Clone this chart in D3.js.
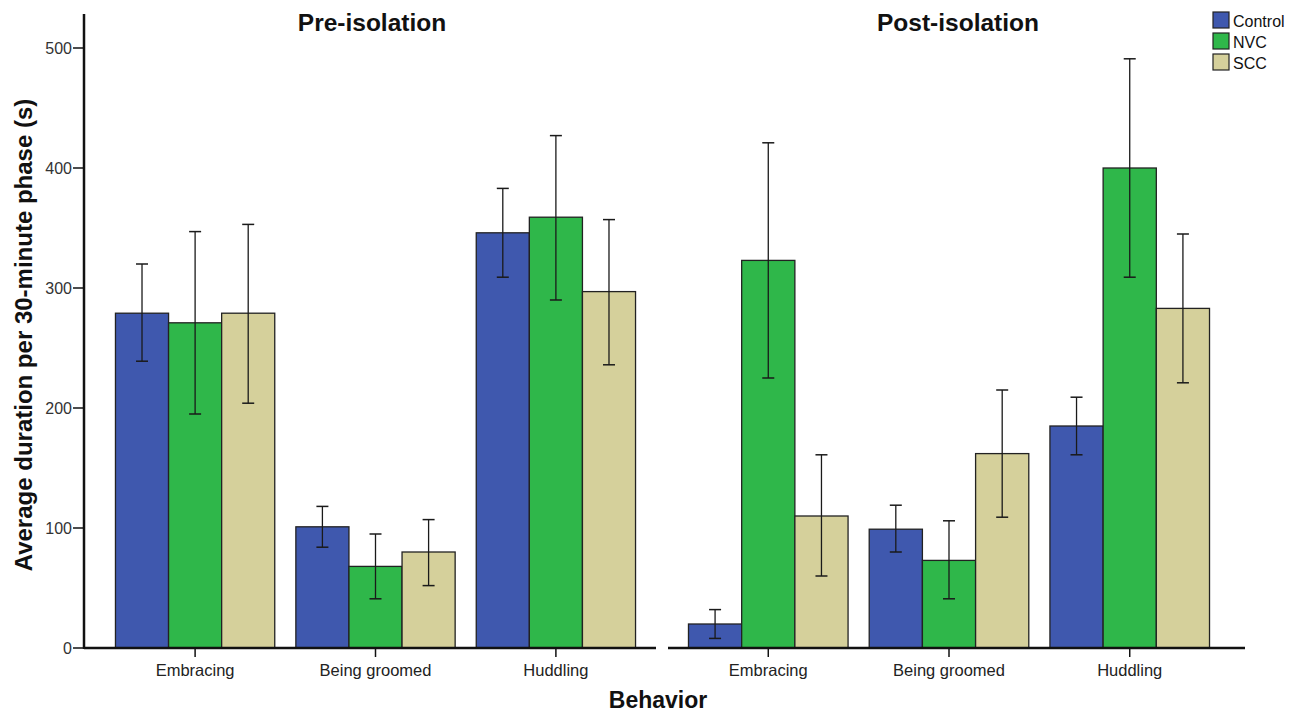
<!DOCTYPE html>
<html><head><meta charset="utf-8">
<script src="https://cdn.jsdelivr.net/npm/d3@7"></script>
<style>body{margin:0;background:#fff}svg{display:block}text{font-family:"Liberation Sans",Arial,sans-serif}</style>
</head><body>
<script>
const behaviors = ["Embracing", "Being groomed", "Huddling"];
const groups = ["Control", "NVC", "SCC"];
const colors = ["#3f58ae", "#2fb74a", "#d5d09b"];
const panels = ["Pre-isolation", "Post-isolation"];
const yTicks = [0, 100, 200, 300, 400, 500];
// values [behavior][group]
const preMean = [[279, 271, 279], [101, 68, 80], [346, 359, 297]];
const preLow  = [[239, 195, 204], [84, 41, 52], [309, 290, 236]];
const preHigh = [[320, 347, 353], [118, 95, 107], [383, 427, 357]];
const postMean = [[20, 323, 110], [99, 73, 162], [185, 400, 283]];
const postLow  = [[8, 225, 60], [80, 41, 109], [161, 309, 221]];
const postHigh = [[32, 421, 161], [119, 106, 215], [209, 491, 345]];

const W = 1295, H = 714;
const svg = d3.select("body").append("svg").attr("width", W).attr("height", H);
const y = d3.scaleLinear().domain([0, 500]).range([648, 48]);

// y axis
svg.append("line").attr("x1", 84).attr("x2", 84).attr("y1", 14).attr("y2", 649)
  .attr("stroke", "#111").attr("stroke-width", 2.5);
yTicks.forEach(t => {
  svg.append("line").attr("x1", 73).attr("x2", 84).attr("y1", y(t)).attr("y2", y(t))
    .attr("stroke", "#111").attr("stroke-width", 1.5);
  svg.append("text").attr("x", 72).attr("y", y(t) + 6).attr("text-anchor", "end")
    .attr("font-size", 16).attr("fill", "#333").text(t);
});
svg.append("text").attr("transform", "translate(32,335) rotate(-90)")
  .attr("text-anchor", "middle").attr("font-size", 24).attr("font-weight", "bold")
  .attr("fill", "#111").text("Average duration per 30-minute phase (s)");

const panelDefs = [
  {title: panels[0], mean: preMean, low: preLow, high: preHigh, range: [105, 646], base: [84, 656], tx: 372},
  {title: panels[1], mean: postMean, low: postLow, high: postHigh, range: [678, 1220], base: [668, 1245], tx: 958}
];

panelDefs.forEach(p => {
  const x0 = d3.scaleBand().domain(behaviors).range(p.range).paddingInner(0.117).paddingOuter(0.058);
  const x1 = d3.scaleBand().domain(groups).range([0, x0.bandwidth()]);
  const g = svg.append("g");
  behaviors.forEach((b, bi) => {
    groups.forEach((gr, gi) => {
      const x = x0(b) + x1(gr);
      g.append("rect").attr("x", x).attr("y", y(p.mean[bi][gi]))
        .attr("width", x1.bandwidth()).attr("height", y(0) - y(p.mean[bi][gi]))
        .attr("fill", colors[gi]).attr("stroke", "#222").attr("stroke-width", 1.3);
    });
  });
  // baseline
  svg.append("line").attr("x1", p.base[0]).attr("x2", p.base[1]).attr("y1", 648).attr("y2", 648)
    .attr("stroke", "#111").attr("stroke-width", 2.5);
  behaviors.forEach((b, bi) => {
    groups.forEach((gr, gi) => {
      const cx = x0(b) + x1(gr) + x1.bandwidth() / 2;
      const lo = y(p.low[bi][gi]), hi = y(p.high[bi][gi]);
      g.append("line").attr("x1", cx).attr("x2", cx).attr("y1", lo).attr("y2", hi)
        .attr("stroke", "#1a1a1a").attr("stroke-width", 1.3);
      [lo, hi].forEach(v => g.append("line").attr("x1", cx - 6).attr("x2", cx + 6)
        .attr("y1", v).attr("y2", v).attr("stroke", "#1a1a1a").attr("stroke-width", 1.5));
    });
    const c = x0(b) + x0.bandwidth() / 2;
    svg.append("line").attr("x1", c).attr("x2", c).attr("y1", 649).attr("y2", 657)
      .attr("stroke", "#111").attr("stroke-width", 1.5);
    svg.append("text").attr("x", c).attr("y", 676).attr("text-anchor", "middle")
      .attr("font-size", 16.5).attr("fill", "#222").text(b);
  });
  svg.append("text").attr("x", p.tx).attr("y", 31).attr("text-anchor", "middle")
    .attr("font-size", 24.5).attr("font-weight", "bold").attr("fill", "#111").text(p.title);
});

svg.append("text").attr("x", 658).attr("y", 708).attr("text-anchor", "middle")
  .attr("font-size", 23).attr("font-weight", "bold").attr("fill", "#111").text("Behavior");

// legend
groups.forEach((gr, i) => {
  svg.append("rect").attr("x", 1213).attr("y", 12 + i * 21).attr("width", 16).attr("height", 16)
    .attr("fill", colors[i]).attr("stroke", "#222").attr("stroke-width", 1.2);
  svg.append("text").attr("x", 1233).attr("y", 27 + i * 21).attr("font-size", 16)
    .attr("fill", "#111").text(gr);
});
</script>
</body></html>
